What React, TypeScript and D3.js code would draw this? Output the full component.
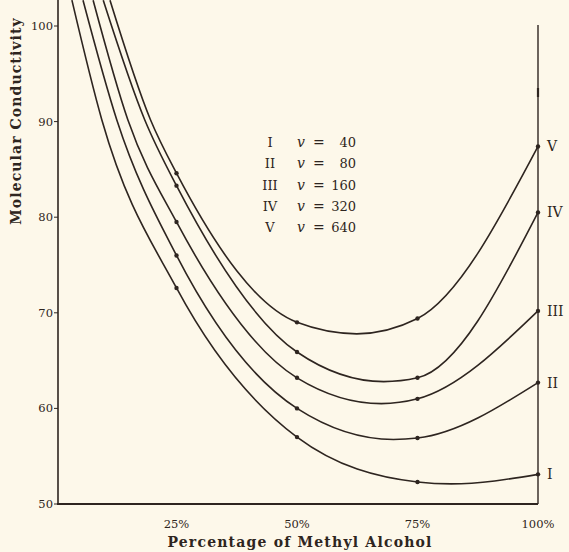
import React from 'react'
import * as d3 from 'd3'

// percentage of methyl alcohol at which conductivity was measured
const measuredPct = [25, 50, 75, 100]
const yTicks = [50, 60, 70, 80, 90, 100]
const xTicks = [25, 50, 75, 100]

// points: [percent, molecular conductivity]
const curveI = [[3.3, 102.7], [9.5, 90.2], [25, 72.6], [50, 57.0], [75, 52.3], [82, 52.1], [100, 53.1]]
const curveII = [[5.6, 102.7], [12.6, 90.2], [25, 76.0], [50, 60.0], [70, 56.75], [75, 56.9], [100, 62.7]]
const curveIII = [[7.7, 102.7], [14.9, 90.2], [25, 79.5], [50, 63.2], [67.5, 60.5], [75, 61.0], [100, 70.2]]
const curveIV = [[9.8, 102.7], [18.4, 90.2], [25, 83.3], [50, 65.9], [68, 62.8], [75, 63.2], [100, 80.5]]
const curveV = [[11.2, 102.7], [19.6, 90.2], [25, 84.6], [50, 69.0], [62.4, 67.8], [75, 69.4], [100, 87.4]]

const curveNames = ['I', 'II', 'III', 'IV', 'V']
const dilutions = [40, 80, 160, 320, 640]
const curves = [curveI, curveII, curveIII, curveIV, curveV]

const ink = '#2e2520'
const paper = '#fdf8ea'

export default function App() {
  const x = d3.scaleLinear().domain([0, 100]).range([56, 538])
  const y = d3.scaleLinear().domain([50, 100]).range([504, 26])

  const line = d3.line<number[]>()
    .x(d => x(d[0]))
    .y(d => y(d[1]))
    .curve(d3.curveMonotoneX)

  const serif = '"DejaVu Serif", "Liberation Serif", serif'

  return (
    <svg
      width={569}
      height={552}
      style={{ position: 'absolute', left: 0, top: 0, background: paper }}
      fontFamily={serif}
    >
      <rect width={569} height={552} fill={paper} />

      {/* curves */}
      {curves.map((c, i) => (
        <path key={i} d={line(c) || ''} fill="none" stroke={ink} strokeWidth={1.6} />
      ))}

      {/* measured points */}
      {curves.map((c, i) =>
        c.filter(p => measuredPct.includes(p[0])).map((p, j) => (
          <circle key={`${i}-${j}`} cx={x(p[0])} cy={y(p[1])} r={2.2} fill={ink} />
        ))
      )}

      {/* left axis */}
      <line x1={58} x2={58} y1={0} y2={y(50)} stroke={ink} strokeWidth={1.6} />
      {yTicks.map(t => (
        <g key={t}>
          <line x1={54} x2={58} y1={y(t)} y2={y(t)} stroke={ink} strokeWidth={1} />
          <text x={53} y={y(t) + 4} textAnchor="end" fontSize={11.5} fill={ink}>{t}</text>
        </g>
      ))}

      {/* bottom axis */}
      <line x1={57} x2={x(100)} y1={y(50)} y2={y(50)} stroke={ink} strokeWidth={2} />
      {xTicks.map(t => (
        <text key={t} x={x(t)} y={528} textAnchor="middle" fontSize={11.5} fill={ink}>{t}%</text>
      ))}

      {/* right vertical line at 100% */}
      <line x1={x(100)} x2={x(100)} y1={25} y2={y(50)} stroke={ink} strokeWidth={1.4} />
      <line x1={x(100)} x2={x(100)} y1={88} y2={97} stroke={ink} strokeWidth={2.2} />

      {/* curve labels on the right */}
      {curves.map((c, i) => {
        const last = c[c.length - 1]
        return (
          <text key={i} x={547} y={y(last[1]) + 5} fontSize={14} fill={ink}>{curveNames[i]}</text>
        )
      })}

      {/* legend */}
      {curveNames.map((n, i) => (
        <g key={n} fontSize={13} fill={ink}>
          <text x={270} y={147 + i * 21.3} textAnchor="middle">{n}</text>
          <text x={297} y={147 + i * 21.3} fontStyle="italic" fontSize={14}>v</text>
          <text x={313} y={147 + i * 21.3} fontSize={14}>=</text>
          <text x={356} y={147 + i * 21.3} textAnchor="end">{dilutions[i]}</text>
        </g>
      ))}

      {/* axis titles */}
      <text
        transform="translate(21,121) rotate(-90)"
        textAnchor="middle"
        fontSize={14}
        fontWeight="bold"
        letterSpacing={1.1}
        fill={ink}
      >
        Molecular Conductivity
      </text>
      <text x={300} y={547} textAnchor="middle" fontSize={14} fontWeight="bold" letterSpacing={1.2} fill={ink}>
        Percentage of Methyl Alcohol
      </text>
    </svg>
  )
}
